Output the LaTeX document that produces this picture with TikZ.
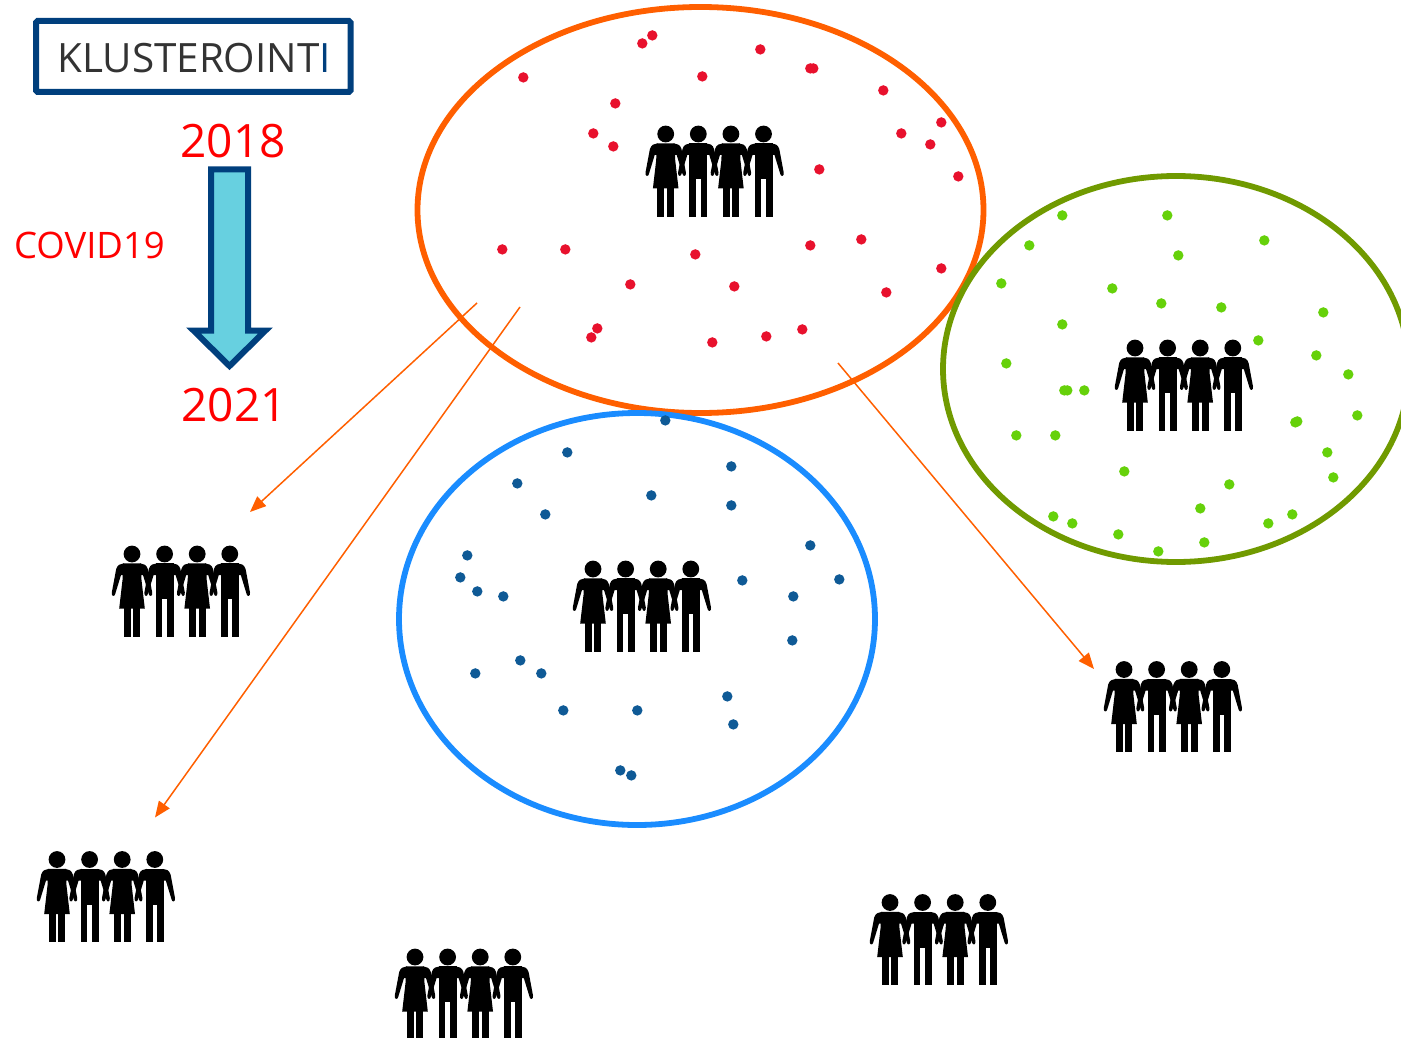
\documentclass[tikz,border=0pt]{standalone}
\usepackage{fontspec}
\setmainfont{Open Sans}
\usetikzlibrary{arrows.meta}
\definecolor{navy}{HTML}{003F7D}
\definecolor{cyanfill}{HTML}{67D0E0}
\definecolor{orangeline}{HTML}{FF5F00}
\definecolor{greenline}{HTML}{709A00}
\definecolor{blueline}{HTML}{1A8CFF}
\definecolor{reddot}{HTML}{E8112D}
\definecolor{greendot}{HTML}{66D10A}
\definecolor{bluedot}{HTML}{0F5A96}
\definecolor{labelred}{HTML}{FF0000}
\definecolor{darktext}{HTML}{333333}
\tikzset{
  cluster/.style={draw=#1,line width=5.8pt,fill=none},
  flow/.style={draw=orangeline,line width=1.5pt,-{Triangle[length=16pt,width=13pt]}},
  pics/armpair/.style={code={
    \fill[black] (8,9.4) .. controls (11,9.6) and (14.5,10.5) .. (15.8,15) -- (20.2,38.5) .. controls (20.8,42.5) and (17.3,43) .. (16.8,40) -- (11,21) -- (8,21) -- cycle;
    \fill[black] (-8,9.4) .. controls (-11,9.6) and (-14.5,10.5) .. (-15.8,15) -- (-20.2,38.5) .. controls (-20.8,42.5) and (-17.3,43) .. (-16.8,40) -- (-11,21) -- (-8,21) -- cycle;
  }},
  pics/woman/.style={code={
    \fill[black] (0,0) circle (8.4);
    \fill[black] (-8.3,50) rectangle (-1.4,82.5);
    \fill[black] (1.4,50) rectangle (8.3,82.5);
    \fill[black] (-9,9.4) -- (9,9.4) -- (9.5,26) -- (12.8,54.5) -- (-12.8,54.5) -- (-9.5,26) -- cycle;
    \pic {armpair};
  }},
  pics/man/.style={code={
    \fill[black] (0,0) circle (8.4);
    \fill[black] (-9,40) rectangle (-2.3,82.5);
    \fill[black] (2.3,40) rectangle (9,82.5);
    \fill[black] (-9,9.4) -- (9,9.4) -- (9,45) -- (-9,45) -- cycle;
    \pic {armpair};
  }},
  pics/group/.style={code={
    \pic at (0,0) {woman};
    \pic at (32.6,0) {man};
    \pic at (65.2,0) {woman};
    \pic at (97.8,0) {man};
  }},
}
\newcommand{\dotset}[2]{\foreach \px/\py in {#2} {\fill[#1] ([shift={(0.3,0.4)}]\px,\py) circle (5.2);}}
\begin{document}
\begin{tikzpicture}[x=1pt,y=-1pt]
\useasboundingbox (0,0) rectangle (1401,1038);
% clusters
\draw[cluster=orangeline] (700.5,210) ellipse [x radius=283,y radius=203];
\draw[cluster=greenline] (1176,369) ellipse [x radius=233,y radius=193];
\draw[cluster=blueline] (637,619) ellipse [x radius=238,y radius=206];
\dotset{reddot}{652/35,642/43,760/49,813/68,810/68,523/77,702/76,883/90,615/103,941/122,593/133,901/133,613/146,930/144,819/169,958/176,502/249,565/249,810/245,861/239,695/254,941/268,630/284,734/286,886/292,597/328,591/337,802/329,766/336,712/342}
\dotset{greendot}{1062/215,1167/215,1264/240,1029/245,1178/255,1001/283,1112/288,1161/303,1221/307,1323/312,1062/324,1258/340,1316/355,1006/363,1348/374,1064/390,1067/390,1084/390,1357/415,1297/421,1295/422,1016/435,1055/435,1327/452,1124/471,1333/477,1229/484,1200/508,1053/516,1072/523,1292/514,1268/523,1118/534,1204/542,1158/551}
\dotset{bluedot}{665/420,567/452,731/466,517/483,651/495,731/505,545/514,810/545,467/555,460/577,477/591,503/596,742/580,839/579,793/596,792/640,520/660,475/673,541/673,727/696,563/710,637/710,733/724,620/770,631/775}
% people
\pic at (665.7,134) {group};
\pic at (1135,348) {group};
\pic at (593,569) {group};
\pic at (132,554) {group};
\pic at (1124,669.5) {group};
\pic at (57,859.5) {group};
\pic at (415,957) {group};
\pic at (890,902.5) {group};
% flows
\coordinate (s1) at (477,303); \coordinate (t1) at (250,512);
\coordinate (s2) at (520,307); \coordinate (t2) at (155,817.5);
\coordinate (s3) at (838,363); \coordinate (t3) at (1094,669);
\draw[flow] (s1) -- (t1);
\draw[flow] (s2) -- (t2);
\draw[flow] (s3) -- (t3);
% title
\draw[navy,line width=6pt,rounded corners=1.5pt] (36,21) rectangle (350.5,92);
\node[anchor=base west,inner sep=0pt,font=\fontsize{40.4}{40.4}\selectfont,text=darktext] (title) at (57,72.5) {KLUSTEROINT\textcolor{navy}{I}};
% time arrow
\draw[navy,fill=cyanfill,line width=6pt,miter limit=10] (211,169.5) -- (248,169.5) -- (248,330.5) -- (265.5,330.5) -- (229.5,366) -- (193.5,330.5) -- (211,330.5) -- cycle;
\node[anchor=base,inner sep=0pt,font=\fontsize{46}{46}\selectfont,text=labelred] (y1) at (233,158) {2018};
\node[anchor=base,inner sep=0pt,font=\fontsize{46}{46}\selectfont,text=labelred] (y2) at (234,421) {2021};
\node[anchor=base,inner sep=0pt,font=\fontsize{36.5}{36.5}\selectfont,text=labelred] (cov) at (89.5,258) {COVID19};
\end{tikzpicture}
\end{document}
